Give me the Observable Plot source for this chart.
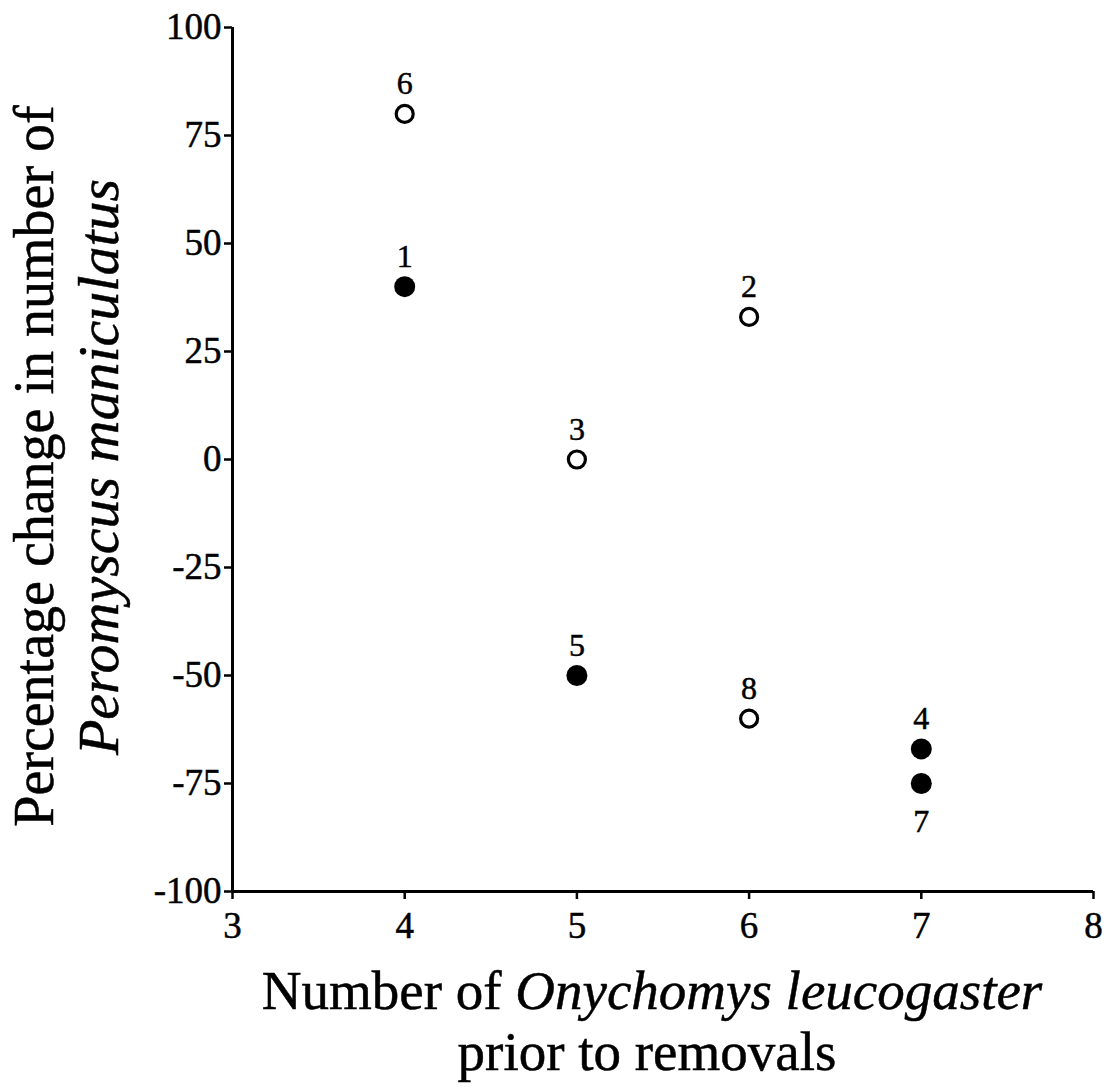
<!DOCTYPE html>
<html>
<head>
<meta charset="utf-8">
<script src="https://cdn.jsdelivr.net/npm/d3@7"></script>
<script src="https://cdn.jsdelivr.net/npm/@observablehq/plot@0.6"></script>
<style>
  html, body { margin: 0; padding: 0; background: #fff; }
  #chart svg { display: block; }
  #chart svg text { stroke: #000; stroke-width: 0.5px; }
</style>
</head>
<body>
<div id="chart"></div>
<script>
// Data
const plotIds   = [6, 1, 2, 3, 5, 8, 4, 7];
const xValues   = [4, 4, 6, 5, 5, 6, 7, 7];
const yValues   = [80, 40, 33, 0, -50, -60, -67, -75];
const isFilled  = [false, true, false, false, true, false, true, true];
const labelSide = ["above", "above", "above", "above", "above", "above", "above", "below"];
const xTicks = [3, 4, 5, 6, 7, 8];
const yTicks = [-100, -75, -50, -25, 0, 25, 50, 75, 100];
const xTitle1 = ["Number of ", "Onychomys leucogaster"];
const xTitle2 = "prior to removals";
const yTitle1 = "Percentage change in number of";
const yTitle2 = "Peromyscus maniculatus";

const rows = plotIds.map((id, i) => ({
  id, x: xValues[i], y: yValues[i], filled: isFilled[i], side: labelSide[i]
}));

const W = 1110, H = 1089;
const FONT = "'Liberation Serif', 'Times New Roman', serif";

const chart = Plot.plot({
  width: W,
  height: H,
  marginLeft: 232,
  marginRight: 17,
  marginTop: 27,
  marginBottom: 198,
  style: { fontFamily: FONT, background: "#fff", color: "#000" },
  x: { domain: [3, 8] },
  y: { domain: [-100, 100] },
  marks: [
    Plot.axisX({ ticks: xTicks, tickSize: 8, tickPadding: 12, fontSize: 37, tickFormat: d => String(d), label: null, strokeWidth: 2.5 }),
    Plot.axisY({ ticks: yTicks, tickSize: 8, tickPadding: 3, fontSize: 37, tickFormat: d => String(d), label: null, strokeWidth: 2.5 }),
    Plot.ruleX([3], { y1: -100, y2: 100, stroke: "#000", strokeWidth: 3 }),
    Plot.ruleY([-100], { x1: 3, x2: 8, stroke: "#000", strokeWidth: 3 }),
    Plot.dot(rows.filter(d => !d.filled), { x: "x", y: "y", r: 8.5, fill: "#fff", stroke: "#000", strokeWidth: 3.2 }),
    Plot.dot(rows.filter(d => d.filled), { x: "x", y: "y", r: 10.5, fill: "#000", stroke: "none" }),
    Plot.text(rows.filter(d => d.side === "above"), { x: "x", y: "y", text: d => String(d.id), dy: -30, fontSize: 32, fill: "#000", fontFamily: FONT }),
    Plot.text(rows.filter(d => d.side === "below"), { x: "x", y: "y", text: d => String(d.id), dy: 38, fontSize: 32, fill: "#000", fontFamily: FONT })
  ]
});

document.getElementById("chart").appendChild(chart);

// Axis titles with mixed italic text
const svg = d3.select(chart);
const g = svg.append("g").attr("font-family", FONT).attr("fill", "#000");

const xt1 = g.append("text").attr("x", 652).attr("y", 1009).attr("text-anchor", "middle").attr("font-size", 55);
xt1.append("tspan").text(xTitle1[0]);
xt1.append("tspan").attr("font-style", "italic").text(xTitle1[1]);
g.append("text").attr("x", 647).attr("y", 1070).attr("text-anchor", "middle").attr("font-size", 55).text(xTitle2);

g.append("text").attr("transform", "translate(53,466) rotate(-90)").attr("text-anchor", "middle").attr("font-size", 56).text(yTitle1);
g.append("text").attr("transform", "translate(118,467) rotate(-90)").attr("text-anchor", "middle").attr("font-size", 58).attr("font-style", "italic").text(yTitle2);
</script>
</body>
</html>
